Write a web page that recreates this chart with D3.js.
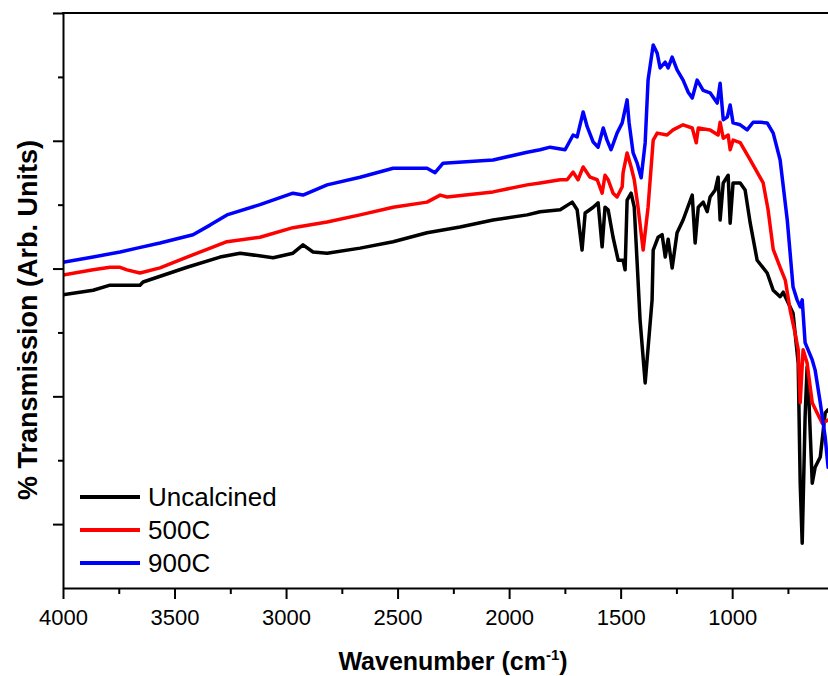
<!DOCTYPE html>
<html>
<head>
<meta charset="utf-8">
<script src="https://cdn.jsdelivr.net/npm/d3@7"></script>
<style>
  html, body { margin: 0; padding: 0; background: #fff; }
  svg { display: block; font-family: "Liberation Sans", Arial, sans-serif; }
</style>
</head>
<body>
<svg id="chart" width="828" height="676"></svg>
<script>
// ---- Data (wavenumber cm^-1, % transmission arb.) ----
const seriesNames = ["Uncalcined", "500C", "900C"];
const seriesColors = ["#000000", "#ff0000", "#0000ff"];

const uncalcined = [
  [4000,45.9],[3865,46.6],[3789,47.4],[3655,47.4],[3641,47.9],[3444,50.2],[3296,51.8],[3206,52.4],
  [3058,51.7],[2969,52.4],[2924,53.7],[2879,52.6],[2816,52.4],[2668,53.2],[2520,54.2],[2368,55.6],
  [2220,56.5],[2072,57.6],[1919,58.4],[1861,58.9],[1771,59.2],[1717,60.4],[1695,59.2],[1673,52.9],
  [1659,58.7],[1623,59.6],[1601,60.3],[1583,53.4],[1570,59.6],[1556,59.2],[1534,54.9],[1511,51.3],
  [1489,51.3],[1480,49.8],[1471,60.7],[1453,61.8],[1439,59.6],[1426,50.9],[1413,42.0],[1390,32.1],
  [1359,45.1],[1354,52.9],[1332,54.9],[1314,55.3],[1300,51.8],[1287,54.6],[1269,50.1],[1247,55.6],
  [1220,57.6],[1179,61.5],[1166,54.0],[1152,59.6],[1130,60.4],[1112,58.9],[1099,61.2],[1076,62.3],
  [1063,64.3],[1054,57.6],[1040,63.4],[1018,64.6],[1009,57.1],[996,63.4],[964,63.4],[942,62.3],
  [919,57.1],[888,51.3],[843,49.3],[816,46.6],[785,45.6],[771,46.3],[727,43.0],[704,35.2],
  [695,16.4],[686,7.0],[673,26.8],[664,34.6],[659,32.1],[641,16.4],[628,18.9],[605,20.5],
  [583,27.4],[570,27.9]
];

const calcined500 = [
  [4000,49.0],[3865,49.8],[3789,50.2],[3744,50.2],[3713,49.8],[3655,49.3],[3565,50.1],[3444,51.8],
  [3265,54.2],[3117,54.9],[2969,56.4],[2816,57.3],[2668,58.4],[2520,59.6],[2368,60.4],[2309,61.5],
  [2278,61.2],[2072,62.0],[1919,63.1],[1861,63.4],[1771,63.9],[1740,63.9],[1713,65.1],[1691,63.9],
  [1668,65.9],[1637,64.3],[1605,63.9],[1583,61.8],[1570,64.6],[1556,63.9],[1534,61.8],[1516,61.2],
  [1493,62.8],[1489,65.0],[1471,68.1],[1453,65.9],[1439,63.9],[1422,59.6],[1399,52.9],[1377,59.6],
  [1354,70.1],[1336,71.2],[1292,70.9],[1265,71.7],[1220,72.5],[1179,72.0],[1161,69.7],[1152,72.0],
  [1099,71.7],[1063,70.9],[1054,72.9],[1040,70.4],[1018,70.9],[1009,68.6],[996,70.1],[964,69.7],
  [919,67.0],[861,63.4],[839,59.2],[816,53.0],[785,50.2],[762,48.2],[740,43.5],[718,39.9],
  [704,37.3],[695,29.0],[682,37.3],[664,35.2],[641,29.0],[619,27.4],[596,25.8],[570,26.3]
];

const calcined900 = [
  [4000,51.0],[3865,51.8],[3744,52.6],[3668,53.2],[3565,54.0],[3417,55.3],[3341,56.8],[3265,58.4],
  [3117,60.0],[2969,61.8],[2924,61.5],[2816,63.1],[2668,64.3],[2520,65.7],[2368,65.7],[2332,65.0],
  [2296,66.5],[2072,67.0],[1919,68.2],[1861,68.6],[1816,69.0],[1749,68.6],[1713,70.9],[1695,70.6],
  [1668,74.5],[1650,72.2],[1623,69.8],[1601,69.0],[1578,72.0],[1561,70.1],[1543,68.6],[1516,71.2],
  [1493,72.8],[1471,76.4],[1462,72.8],[1444,68.1],[1426,66.5],[1408,64.2],[1390,69.7],[1377,79.5],
  [1354,85.0],[1336,83.7],[1323,81.4],[1300,82.3],[1287,81.4],[1269,83.1],[1247,81.1],[1220,79.5],
  [1197,77.6],[1179,76.7],[1157,79.5],[1130,77.9],[1099,77.5],[1067,75.9],[1054,79.0],[1040,73.3],
  [1022,73.7],[1009,75.6],[996,72.8],[964,72.5],[933,71.7],[906,72.9],[874,72.9],[843,72.8],
  [816,71.2],[785,67.0],[753,57.6],[727,47.1],[709,45.1],[695,44.0],[686,45.1],[673,38.4],
  [641,35.7],[628,34.1],[605,29.0],[583,23.6],[570,18.9]
];

const xMajorTicks = [4000, 3500, 3000, 2500, 2000, 1500, 1000];
const xMinorTicks = [3750, 3250, 2750, 2250, 1750, 1250, 750];
const yMajorTicks = [10, 30, 50, 70, 90];
const yMinorTicks = [20, 40, 60, 80];

// ---- Layout ----
const svg = d3.select("#chart");
const plotLeft = 63, plotTop = 13, plotBottom = 588, plotRight = 866;

const x = d3.scaleLinear().domain([4000, 400]).range([plotLeft, plotRight]);
const y = d3.scaleLinear().domain([0, 90]).range([plotBottom, plotTop]);

svg.append("defs").append("clipPath").attr("id", "plotclip")
  .append("rect").attr("x", plotLeft).attr("y", plotTop)
  .attr("width", plotRight - plotLeft).attr("height", plotBottom - plotTop);

// lines
const line = d3.line().x(d => x(d[0])).y(d => y(d[1]));
const allSeries = [uncalcined, calcined500, calcined900];
const g = svg.append("g").attr("clip-path", "url(#plotclip)");
allSeries.forEach((s, i) => {
  g.append("path").datum(s)
    .attr("d", line)
    .attr("fill", "none")
    .attr("stroke", seriesColors[i])
    .attr("stroke-width", 3.5)
    .attr("stroke-linejoin", "round")
    .attr("stroke-linecap", "round");
});

// axes
function styleAxis(sel) {
  sel.selectAll("path.domain").attr("stroke", "#000").attr("stroke-width", 2);
  sel.selectAll(".tick line").attr("stroke", "#000").attr("stroke-width", 2);
}

const xAxis = svg.append("g").attr("transform", `translate(0,${plotBottom})`)
  .call(d3.axisBottom(x).tickValues(xMajorTicks).tickSize(11).tickSizeOuter(0).tickPadding(10).tickFormat(d3.format("d")));
styleAxis(xAxis);
xAxis.selectAll("text").attr("font-size", 22).attr("fill", "#000")
  .attr("font-family", "Liberation Sans, Arial, sans-serif");
const xMinor = svg.append("g").attr("transform", `translate(0,${plotBottom})`)
  .call(d3.axisBottom(x).tickValues(xMinorTicks).tickSize(6).tickSizeOuter(0).tickFormat(""));
styleAxis(xMinor);
xMinor.select("path.domain").remove();

const yAxis = svg.append("g").attr("transform", `translate(${plotLeft},0)`)
  .call(d3.axisLeft(y).tickValues(yMajorTicks).tickSize(10).tickSizeOuter(0).tickFormat(""));
styleAxis(yAxis);
const yMinor = svg.append("g").attr("transform", `translate(${plotLeft},0)`)
  .call(d3.axisLeft(y).tickValues(yMinorTicks).tickSize(5).tickSizeOuter(0).tickFormat(""));
styleAxis(yMinor);
yMinor.select("path.domain").remove();

// top frame line
svg.append("line").attr("x1", plotLeft - 1).attr("x2", 828).attr("y1", plotTop).attr("y2", plotTop)
  .attr("stroke", "#000").attr("stroke-width", 2);

// axis titles
const xt = svg.append("text").attr("x", 453).attr("y", 670).attr("text-anchor", "middle")
  .attr("font-size", 25).attr("font-weight", "bold").attr("fill", "#000");
xt.append("tspan").text("Wavenumber (cm");
xt.append("tspan").attr("font-size", 15).attr("dy", -10).text("-1");
xt.append("tspan").attr("dy", 10).text(")");

svg.append("text").attr("transform", "translate(37,320) rotate(-90)")
  .attr("text-anchor", "middle").attr("font-size", 27).attr("font-weight", "bold").attr("fill", "#000")
  .text("% Transmission (Arb. Units)");

// legend
const legend = svg.append("g");
seriesNames.forEach((name, i) => {
  const ly = 497 + i * 33;
  legend.append("line").attr("x1", 80).attr("x2", 140).attr("y1", ly).attr("y2", ly)
    .attr("stroke", seriesColors[i]).attr("stroke-width", 4);
  legend.append("text").attr("x", 148).attr("y", ly + 9).attr("font-size", 26).attr("fill", "#000").text(name);
});
</script>
</body>
</html>
